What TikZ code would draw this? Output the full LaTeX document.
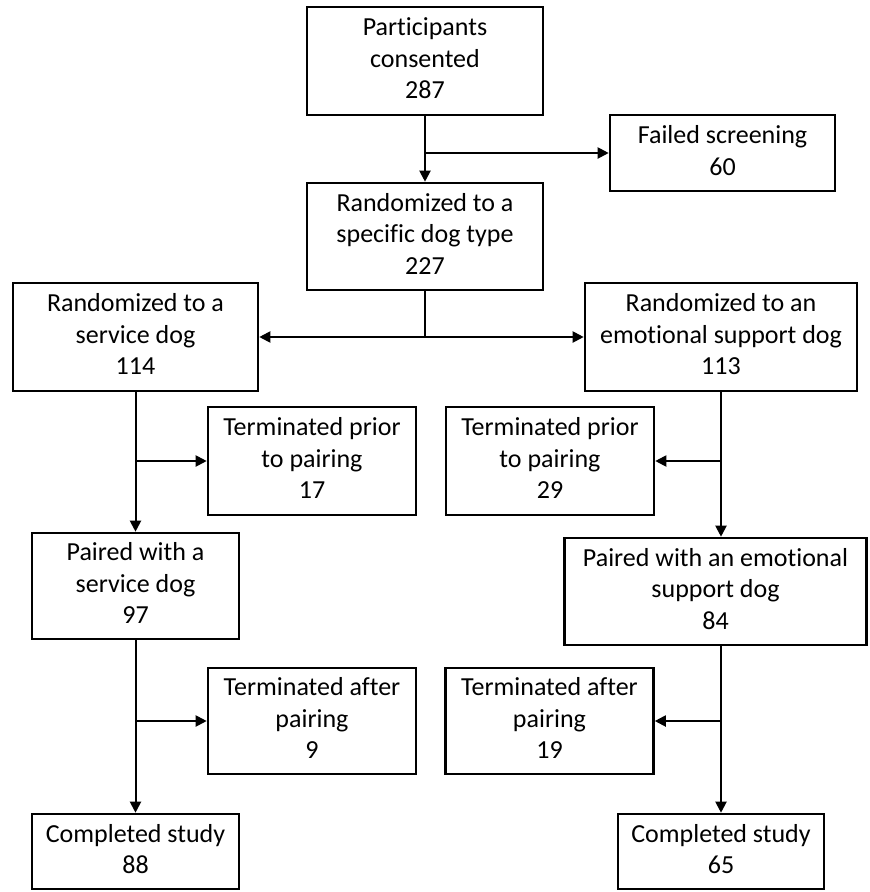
\documentclass[tikz,border=0pt]{standalone}
\usepackage{fontspec}
\setmainfont[Ligatures=NoCommon]{Carlito}
\usepackage{tikz}
\usetikzlibrary{arrows.meta}
\usetikzlibrary{positioning}

\begin{document}
\begin{tikzpicture}
    [x=1pt, y=-1pt,
     every node part/.style={align=center},
     box/.style={draw, rectangle, line width=2.6pt, inner sep=0pt,
       font=\fontsize{26}{31.6}\selectfont},
     flow/.style={line width=2pt, -{Triangle[length=11pt,width=11pt]}},
     link/.style={line width=2pt}]
    \useasboundingbox (0, 0) rectangle (870, 892);

    % top of the chart
    \node (consented) [box, minimum width=236, minimum height=108] at (425, 61) {
      \begin{tabular}{c}
        Participants \\
        consented \\
        287
      \end{tabular}
    };
    \node (failed) [box, minimum width=225, minimum height=76] at (722.5, 153) {
      \begin{tabular}{c}
        Failed screening \\
        60
      \end{tabular}
    };
    \node (randtype) [box, minimum width=236, minimum height=107] at (425, 236.5) {
      \begin{tabular}{c}
        Randomized to a \\
        specific dog type \\
        227
      \end{tabular}
    };

    % the two arms
    \node (randsd) [box, minimum width=245, minimum height=108] at (135.5, 337) {
      \begin{tabular}{c}
        Randomized to a \\
        service dog \\
        114
      \end{tabular}
    };
    \node (randesd) [box, minimum width=272, minimum height=108] at (721, 337) {
      \begin{tabular}{c}
        Randomized to an \\
        emotional support dog \\
        113
      \end{tabular}
    };

    \node (priorsd) [box, minimum width=208, minimum height=108] at (312, 461) {
      \begin{tabular}{c}
        Terminated prior \\
        to pairing \\
        17
      \end{tabular}
    };
    \node (prioresd) [box, minimum width=208, minimum height=108] at (550, 461) {
      \begin{tabular}{c}
        Terminated prior \\
        to pairing \\
        29
      \end{tabular}
    };

    \node (pairedsd) [box, minimum width=207, minimum height=106] at (135.5, 586) {
      \begin{tabular}{c}
        Paired with a \\
        service dog \\
        97
      \end{tabular}
    };
    \node (pairedesd) [box, minimum width=302, minimum height=107] at (715.5, 591.5) {
      \begin{tabular}{c}
        Paired with an emotional \\
        support dog \\
        84
      \end{tabular}
    };

    \node (aftersd) [box, minimum width=208, minimum height=106] at (312, 721) {
      \begin{tabular}{c}
        Terminated after \\
        pairing \\
        9
      \end{tabular}
    };
    \node (afteresd) [box, minimum width=208, minimum height=106] at (549.5, 721) {
      \begin{tabular}{c}
        Terminated after \\
        pairing \\
        19
      \end{tabular}
    };

    \node (donesd) [box, minimum width=207, minimum height=75] at (135.5, 851.5) {
      \begin{tabular}{c}
        Completed study \\
        88
      \end{tabular}
    };
    \node (doneesd) [box, minimum width=206, minimum height=75] at (721, 851.5) {
      \begin{tabular}{c}
        Completed study \\
        65
      \end{tabular}
    };

    % split points
    \coordinate (split0) at (consented.south |- failed.west);
    \coordinate (split1) at (randtype.south |- randsd.east);
    \coordinate (split2) at (randsd.south |- priorsd.west);
    \coordinate (split3) at (randesd.south |- prioresd.east);
    \coordinate (split4) at (pairedsd.south |- aftersd.west);
    \coordinate (split5) at (doneesd.north |- afteresd.east);

    \draw [flow] (consented) -- (randtype);
    \draw [flow] (split0) -- (failed);
    \draw [link] (randtype) -- (split1);
    \draw [flow] (split1) -- (randsd);
    \draw [flow] (split1) -- (randesd);

    \draw [flow] (randsd) -- (pairedsd);
    \draw [flow] (split2) -- (priorsd);
    \draw [flow] (randesd) -- (randesd |- pairedesd.north);
    \draw [flow] (split3) -- (prioresd);

    \draw [flow] (pairedsd) -- (donesd);
    \draw [flow] (split4) -- (aftersd);
    \draw [flow] (pairedesd.south -| doneesd) -- (doneesd);
    \draw [flow] (split5) -- (afteresd);
  \end{tikzpicture}
\end{document}
